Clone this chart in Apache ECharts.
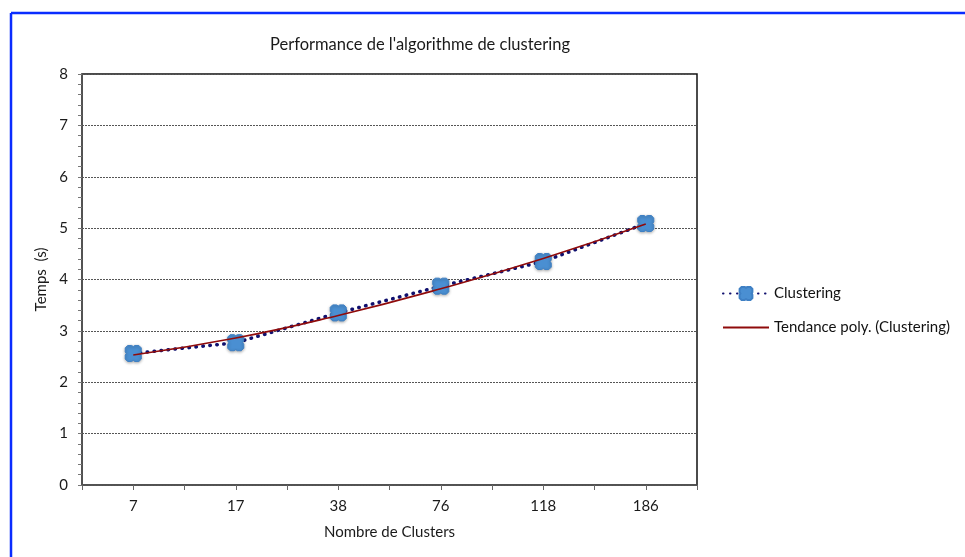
<!DOCTYPE html>
<html><head><meta charset="utf-8">
<script src="https://cdn.jsdelivr.net/npm/echarts@6/dist/echarts.min.js"></script>
<style>html,body{margin:0;padding:0;background:#fff}#c{width:965px;height:557px}</style>
</head><body><div id="c"></div>
<script>
const categories = ['7', '17', '38', '76', '118', '186'];
const clusteringValues = [2.56, 2.77, 3.35, 3.87, 4.35, 5.09];
const trendValues = [2.53, 2.86, 3.30, 3.82, 4.41, 5.08];
const yTicks = [0, 1, 2, 3, 4, 5, 6, 7, 8];
const tickSlots = ['', '', '', '', '', '', '', '', '', '', '', ''];

const FONT = 'Lato, "Open Sans", sans-serif';
const marker = 'path://M3,0 L8,0 L10,1.3 L12,0 L17,0 L20,3 L20,8 L18.7,10 L20,12 L20,17 L17,20 L12,20 L10,18.7 L8,20 L3,20 L0,17 L0,12 L1.3,10 L0,8 L0,3 Z';

const chart = echarts.init(document.getElementById('c'), null, {renderer: 'canvas'});
chart.setOption({
  animation: false,
  backgroundColor: '#fff',
  textStyle: {fontFamily: FONT},
  title: {
    text: "Performance de l'algorithme de clustering",
    left: 415, top: 31, textAlign: 'center',
    textStyle: {fontFamily: FONT, fontSize: 16.5, fontWeight: 'normal', color: '#1a1a1a'}
  },
  graphic: [
    {type: 'line', shape: {x1: 11, y1: 13, x2: 965, y2: 13}, style: {stroke: '#0a2cff', lineWidth: 2.5}},
    {type: 'line', shape: {x1: 11, y1: 13, x2: 11, y2: 557}, style: {stroke: '#0a2cff', lineWidth: 2.5}}
  ],
  grid: {left: 82, right: 268, top: 74, bottom: 72, show: true, borderColor: '#111', borderWidth: 1.5, backgroundColor: '#fff'},
  legend: {
    orient: 'vertical', left: 717, top: 281, itemGap: 19, itemWidth: 46, itemHeight: 16,
    textStyle: {fontFamily: FONT, fontSize: 15, color: '#111'},
    data: [
      {name: 'Clustering'},
      {name: 'Tendance poly. (Clustering)', itemStyle: {opacity: 0}}
    ]
  },
  xAxis: [{
    type: 'category', data: categories, boundaryGap: true,
    name: 'Nombre de Clusters', nameLocation: 'middle', nameGap: 40,
    nameTextStyle: {fontFamily: FONT, fontSize: 15, color: '#1a1a1a'},
    axisLine: {lineStyle: {color: '#555', width: 1.5}},
    axisTick: {show: false},
    axisLabel: {fontFamily: FONT, fontSize: 15, color: '#1a1a1a', margin: 14}
  }, {
    type: 'category', data: tickSlots, boundaryGap: true, position: 'bottom',
    axisLine: {show: false},
    axisTick: {show: true, length: 5, lineStyle: {color: '#666'}},
    axisLabel: {show: false}
  }],
  yAxis: {
    type: 'value', min: yTicks[0], max: yTicks[yTicks.length - 1], interval: 1,
    name: 'Temps  (s)', nameLocation: 'middle', nameGap: 27,
    nameTextStyle: {fontFamily: FONT, fontSize: 15, color: '#1a1a1a'},
    axisLine: {show: true, lineStyle: {color: '#555', width: 1.5}},
    axisTick: {show: true, length: 4, lineStyle: {color: '#777'}},
    minorTick: {show: true, splitNumber: 5, length: 4, lineStyle: {color: '#777'}},
    axisLabel: {fontFamily: FONT, fontSize: 15, color: '#1a1a1a', margin: 14},
    splitLine: {show: true, lineStyle: {color: '#555', type: [2, 1], width: 1}}
  },
  series: [{
    name: 'Clustering', type: 'line', data: clusteringValues,
    symbol: marker, symbolSize: 16, z: 3,
    itemStyle: {color: '#4a8fd2', borderColor: '#3f80c4', borderWidth: 1, shadowColor: 'rgba(0,0,0,0.3)', shadowBlur: 3, shadowOffsetY: 1},
    lineStyle: {color: '#10106e', width: 3.5, type: [0.5, 6.5], cap: 'round'}
  }, {
    name: 'Tendance poly. (Clustering)', type: 'line', data: trendValues,
    smooth: true, symbol: 'none', z: 4,
    itemStyle: {color: '#8f0b0b'},
    lineStyle: {color: '#8f0b0b', width: 1.6}
  }]
});
</script></body></html>
